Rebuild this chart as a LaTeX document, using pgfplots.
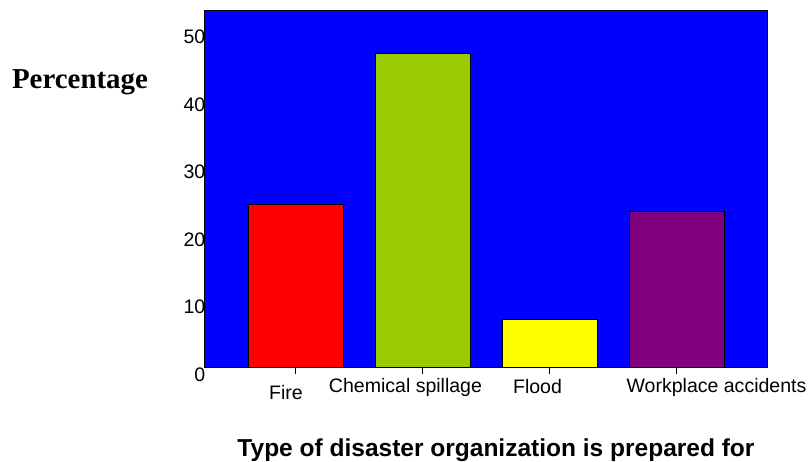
\documentclass[border=0pt]{standalone}
\usepackage{fontspec}
\setmainfont{Liberation Sans}
\newfontfamily\timesfont{Liberation Serif}
\usepackage{pgfplots}
\pgfplotsset{compat=1.18}

\definecolor{bgblue}{HTML}{0000FF}
\definecolor{firered}{HTML}{FF0000}
\definecolor{chemgreen}{HTML}{99CC00}
\definecolor{floodyellow}{HTML}{FFFF00}
\definecolor{workpurple}{HTML}{800080}

\begin{document}
\begin{tikzpicture}
\begin{axis}[
    at={(0,0)}, anchor=south west,
    scale only axis,
    width=563bp, height=357bp,
    xmin=-0.72, xmax=3.71,
    ymin=0, ymax=52.9,
    axis background/.style={fill=bgblue},
    axis line style={black, line width=1bp},
    ybar, bar width=95bp,
    xtick={0,1,2,3}, xticklabels={},
    x tick style={black, line width=1bp},
    xtick pos=bottom, xtick align=outside,
    major tick length=7bp,
    ytick={0,10,20,30,40,50},
    ytick style={draw=none},
    ytick pos=left,
    yticklabel style={anchor=east, inner sep=0pt, xshift=1.5bp, yshift=-7.5bp,
        font=\fontsize{19.6}{22}\selectfont},
    /pgf/number format/assume math mode=true,
    every axis plot/.append style={draw=black, line width=1bp, bar shift=0pt},
]
\addplot[fill=firered] coordinates {(0,24.1)};
\addplot[fill=chemgreen] coordinates {(1,46.4)};
\addplot[fill=floodyellow] coordinates {(2,7.0)};
\addplot[fill=workpurple] coordinates {(3,23.1)};
\end{axis}
\begin{scope}[every node/.style={font=\fontsize{19.6}{22}\selectfont, inner sep=0pt}]
\node at (82bp,-26bp) {Fire};
\node at (201.5bp,-20bp) {Chemical spillage};
\node at (333.5bp,-20bp) {Flood};
\node at (512.5bp,-20bp) {Workplace accidents};
\end{scope}
\node[font=\fontsize{24.6}{28}\selectfont\bfseries, inner sep=0pt] at (292bp,-83bp) {Type of disaster organization is prepared for};
\node[font=\fontsize{29}{32}\selectfont\timesfont\bfseries, inner sep=0pt] at (-124bp,285bp) {Percentage};
\useasboundingbox (-204bp,-92bp) rectangle (607bp,367bp);
\end{tikzpicture}
\end{document}
